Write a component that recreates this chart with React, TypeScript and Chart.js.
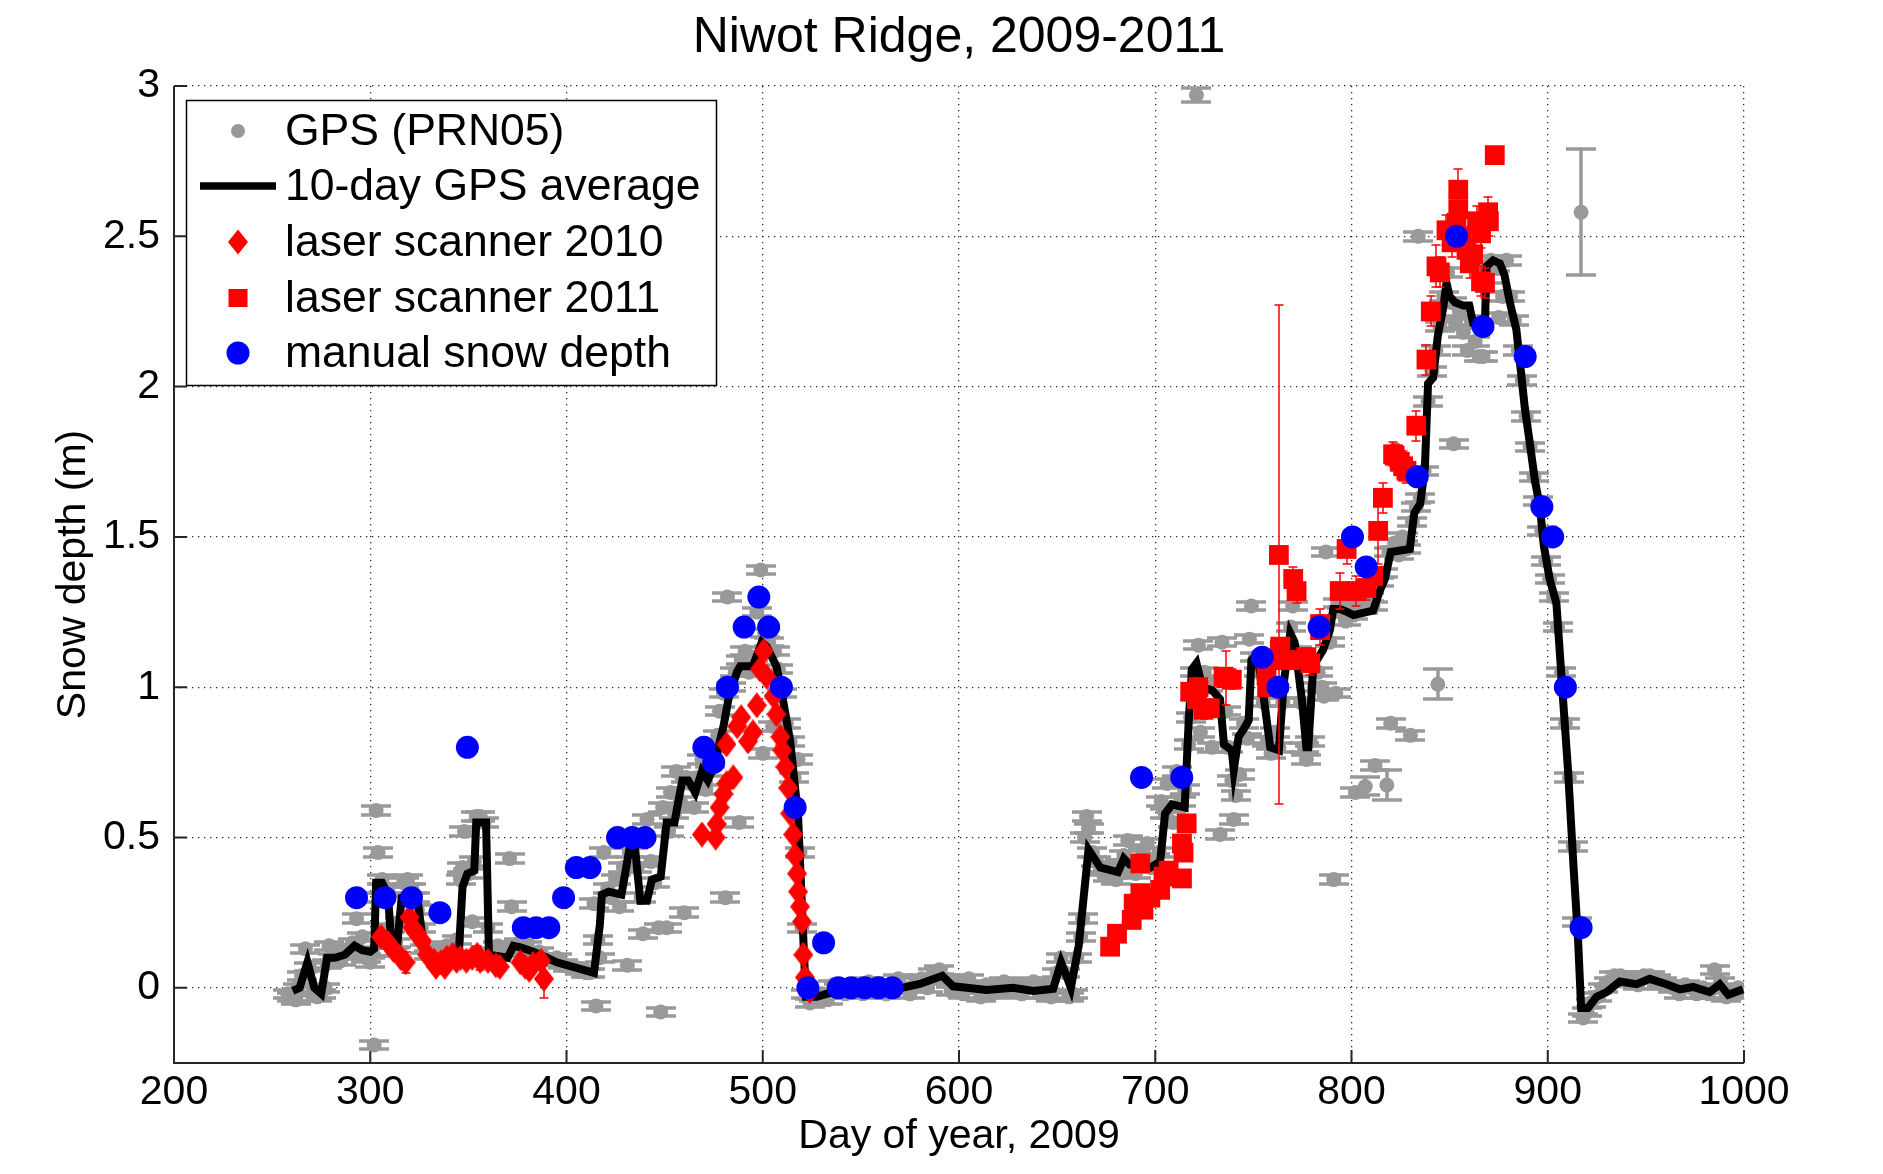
import React, { useEffect, useRef } from 'react';
import { Chart, registerables } from 'chart.js';

Chart.register(...registerables);

const FONT = "'Liberation Sans', Arial, Helvetica, sans-serif";

const chartTitle = 'Niwot Ridge, 2009-2011';
const xTickValues = [200, 300, 400, 500, 600, 700, 800, 900, 1000];
const yTickValues = [0, 0.5, 1, 1.5, 2, 2.5, 3];

// GPS (PRN05) daily estimates
const gpsDay = [
  258, 260, 262, 263, 265, 267, 269, 271, 273, 275, 277, 278, 279, 281, 283, 285, 287, 289, 291, 293,
  294, 296, 298, 300, 301, 302, 303, 304, 305, 306, 307, 309, 310, 312, 313, 315, 317, 319, 321, 323,
  324, 326, 328, 330, 333, 336, 339, 342, 344, 346, 347, 348, 350, 352, 353, 354, 356, 358, 360, 362,
  365, 368, 371, 372, 374, 376, 378, 380, 383, 386, 389, 392, 395, 398, 401, 404, 407, 410, 412, 414,
  415, 416, 417, 419, 421, 423, 425, 427, 429, 431, 432, 434, 436, 438, 439, 441, 443, 445, 447, 448,
  449, 451, 452, 453, 455, 456, 458, 460, 461, 463, 465, 467, 469, 471, 473, 475, 477, 478, 480, 481,
  482, 484, 486, 488, 489, 491, 493, 495, 497, 499, 500, 501, 503, 505, 506, 508, 510, 512, 514, 516,
  518, 519, 520, 522, 524, 526, 528, 530, 533, 536, 539, 542, 545, 548, 551, 554, 557, 560, 563, 566,
  569, 572, 575, 578, 581, 584, 587, 590, 593, 596, 599, 602, 605, 608, 611, 614, 617, 620, 623, 626,
  629, 632, 635, 638, 641, 644, 647, 650, 652, 654, 656, 658, 660, 662, 663, 664, 665, 666, 668, 670,
  672, 674, 676, 678, 680, 682, 684, 686, 688, 690, 692, 694, 696, 698, 700, 702, 703, 705, 706, 708,
  709, 711, 713, 715, 717, 718, 720, 721, 722, 723, 725, 727, 729, 731, 733, 734, 736, 737, 739, 740,
  741, 743, 745, 747, 748, 749, 751, 753, 755, 757, 759, 761, 763, 765, 767, 769, 770, 772, 774, 776,
  777, 779, 781, 783, 785, 786, 787, 789, 791, 792, 793, 795, 797, 799, 801, 802, 804, 806, 807, 809,
  811, 812, 814, 816, 818, 819, 820, 822, 824, 826, 828, 830, 831, 833, 834, 835, 837, 839, 841, 843,
  844, 845, 847, 849, 851, 852, 853, 855, 857, 859, 861, 863, 865, 867, 869, 871, 873, 875, 877, 879,
  881, 883, 885, 887, 889, 891, 893, 895, 897, 899, 901, 903, 905, 907, 909, 911, 913, 915, 917, 918,
  920, 922, 925, 928, 931, 934, 937, 940, 943, 946, 949, 952, 955, 958, 961, 964, 967, 970, 973, 976,
  979, 982, 985, 988, 991, 994, 997, 1000,
];
const gpsDepth = [
  -0.02, -0.03, -0.04, 0.0, 0.04, 0.13, 0.07, -0.01, -0.03, -0.02, 0.0, 0.08, 0.14, 0.1, 0.12, 0.09, 0.11, 0.13, 0.15, 0.23,
  0.12, 0.17, 0.1, 0.085, 0.12, -0.19, 0.59, 0.45, 0.3, 0.36, 0.33, 0.32, 0.2, 0.12, 0.15, 0.22, 0.35, 0.36, 0.33, 0.3,
  0.26, 0.2, 0.13, 0.11, 0.12, 0.1, 0.14, 0.1, 0.16, 0.36, 0.4, 0.52, 0.38, 0.22, 0.42, 0.57, 0.57, 0.55, 0.2, 0.12,
  0.14, 0.13, 0.43, 0.27, 0.14, 0.15, 0.12, 0.14, 0.11, 0.12, 0.1, 0.09, 0.1, 0.08, 0.07, 0.07, 0.06, 0.05, 0.05, 0.28,
  -0.06, 0.16, 0.1, 0.45, 0.33, 0.3, 0.36, 0.27, 0.4, 0.075, 0.45, 0.48, 0.4, 0.3, 0.18, 0.56, 0.42, 0.35, 0.2, -0.08,
  0.6, 0.2, 0.52, 0.65, 0.58, 0.72, 0.62, 0.25, 0.7, 0.68, 0.6, 0.7, 0.76, 0.66, 0.72, 0.8, 0.84, 0.92, 0.98, 0.3,
  1.3, 1.0, 1.05, 0.55, 1.09, 1.12, 1.05, 1.1, 1.25, 1.39, 0.78, 1.18, 1.15, 0.87, 1.12, 1.06, 0.98, 0.88, 0.82, 0.7,
  0.76, 0.45, 0.2, -0.02, -0.05, -0.03, -0.04, -0.02, -0.04, 0.01, 0.0, -0.02, 0.01, 0.0, -0.02, 0.02, 0.0, 0.01, -0.02, 0.0,
  0.03, 0.0, -0.02, 0.02, 0.03, 0.0, 0.05, 0.06, 0.03, -0.01, 0.02, -0.02, 0.03, 0.0, -0.03, 0.01, -0.02, 0.0, 0.02, -0.01,
  0.01, -0.02, 0.0, 0.02, -0.02, 0.01, -0.03, 0.05, 0.1, 0.05, -0.03, -0.02, 0.1, 0.17, 0.23, 0.5, 0.57, 0.53, 0.45, 0.42,
  0.39, 0.4, 0.37, 0.38, 0.36, 0.41, 0.44, 0.49, 0.4, 0.38, 0.42, 0.45, 0.48, 0.4, 0.43, 0.45, 0.62, 0.58, 0.68, 0.6,
  0.55, 0.72, 0.62, 0.66, 0.81, 0.9, 1.05, 2.97, 1.14, 0.85, 1.05, 1.0, 0.8, 1.02, 0.51, 1.15, 0.92, 0.8, 0.69, 0.56,
  0.64, 0.71, 0.88, 0.83, 1.16, 1.27, 1.1, 1.05, 0.95, 0.82, 0.78, 0.85, 0.8, 0.95, 1.1, 1.2, 1.27, 1.12, 0.95, 0.8,
  0.76, 0.82, 1.0, 1.05, 1.0, 0.97, 1.45, 1.15, 0.36, 0.98, 1.28, 1.25, 1.22, 1.28, 1.24, 0.65, 1.3, 1.26, 0.67, 1.3,
  1.27, 0.74, 1.35, 1.38, 0.675, 1.45, 0.88, 1.48, 1.44, 1.5, 1.46, 0.84, 1.55, 1.6, 2.5, 1.63, 1.72, 1.95, 2.05, 2.12,
  1.01, 2.2, 2.3, 2.38, 2.28, 1.81, 2.21, 2.25, 2.18, 2.12, 2.22, 2.15, 2.1, 2.1, 2.36, 2.42, 2.4, 2.23, 2.3, 2.42,
  2.3, 2.22, 2.12, 2.02, 1.9, 1.8, 1.7, 1.62, 1.52, 1.42, 1.36, 1.3, 1.2, 1.05, 0.88, 0.7, 0.47, 0.22, 2.58, -0.1,
  -0.08, -0.05, -0.03, 0.0, 0.02, 0.04, 0.04, 0.02, 0.03, 0.01, 0.04, 0.04, 0.03, 0.02, 0.01, 0.0, -0.02, 0.01, 0.0, -0.02,
  0.0, -0.02, 0.06, 0.02, -0.03, -0.02, 0.0, -0.01,
];
const gpsErrDefault = 0.014;
const gpsErrDay = [721, 807, 818, 844, 917];
const gpsErrValue = [0.022, 0.03, 0.05, 0.05, 0.21];

// 10-day GPS average
const avgDay = [
  260.5, 264, 268, 271.5, 275, 278, 282, 287, 292, 296, 300, 302, 303, 306, 309, 310.5, 314, 316, 320, 324,
  327.5, 335, 345, 347, 349.5, 353, 354, 359, 360.5, 370, 373, 376.5, 383, 390, 395, 414, 417, 418, 421.5, 428,
  432, 435, 437.6, 441, 443.5, 448, 451, 455, 459, 462, 465.6, 469, 472, 475, 480, 482.5, 486.8, 488.5, 495, 499.5,
  502, 507, 510.5, 514, 518, 520.7, 522, 527.5, 532.5, 544, 571, 580, 591.5, 597, 604, 614, 627.5, 638, 648, 652,
  655, 657, 661, 666, 672, 681, 684, 687, 697.5, 702.5, 705, 708.5, 715, 717, 718.7, 721, 724, 729, 733, 735,
  739, 740, 742.5, 745, 747.6, 749, 752, 755, 758.6, 763, 765.4, 768.8, 771, 774.7, 777, 778, 780.5, 785.6, 789, 790.7,
  794, 798, 801, 811, 814.4, 817, 820, 829.7, 832, 835, 837.4, 839, 841.6, 844, 846.7, 848.4, 850, 852.7, 857, 860,
  862, 865.4, 868, 868.8, 872.2, 875.6, 878, 880.7, 884, 886, 888.3, 890.9, 893.4, 896, 898, 901, 904.4, 907, 910.4, 913,
  915.5, 917, 920.5, 924.8, 930, 936.7, 945.2, 952, 960.5, 967.3, 974, 982.5, 987.6, 992, 999.5,
];
const avgDepth = [
  -0.01, 0.0, 0.085, 0.0, -0.02, 0.1, 0.1, 0.11, 0.14, 0.125, 0.12, 0.13, 0.35, 0.35, 0.31, 0.17, 0.16, 0.3, 0.31, 0.3,
  0.12, 0.1, 0.1, 0.335, 0.38, 0.39, 0.55, 0.55, 0.11, 0.1, 0.14, 0.135, 0.12, 0.1, 0.085, 0.05, 0.21, 0.31, 0.32, 0.31,
  0.46, 0.46, 0.29, 0.29, 0.36, 0.37, 0.55, 0.55, 0.69, 0.69, 0.65, 0.72, 0.69, 0.735, 0.87, 0.96, 1.05, 1.07, 1.07, 1.15,
  1.135, 1.07, 0.95, 0.82, 0.57, 0.16, -0.03, -0.03, -0.02, 0.0, 0.0, 0.013, 0.04, 0.005, 0.0, -0.007, 0.0, -0.01, -0.003, 0.085,
  0.035, 0.0, 0.14, 0.46, 0.4, 0.385, 0.43, 0.41, 0.4, 0.42, 0.58, 0.61, 0.6, 0.88, 1.06, 1.08, 1.0, 0.99, 0.96, 0.81,
  0.79, 0.725, 0.836, 0.86, 0.89, 1.09, 1.11, 0.98, 0.8, 0.79, 1.01, 1.18, 1.15, 0.96, 0.8, 0.8, 1.07, 1.125, 1.19, 1.26,
  1.26, 1.25, 1.24, 1.255, 1.32, 1.36, 1.45, 1.46, 1.58, 1.61, 1.73, 2.01, 2.03, 2.17, 2.26, 2.345, 2.3, 2.28, 2.27, 2.27,
  2.21, 2.2, 2.21, 2.4, 2.42, 2.41, 2.37, 2.28, 2.19, 2.07, 1.93, 1.81, 1.69, 1.6, 1.47, 1.36, 1.28, 1.034, 0.717, 0.418,
  0.153, -0.067, -0.067, -0.03, -0.014, 0.021, 0.012, 0.03, 0.012, -0.005, 0.003, -0.014, 0.012, -0.023, -0.005,
];

// laser scanner 2010
const laser2010Day = [
  305.5, 309, 312, 315.5, 318, 320, 321.5, 324, 326.5, 329, 332.5, 333.5, 336, 338, 339, 342, 344, 346, 349, 352,
  354.5, 356, 360, 364, 366, 376.5, 379, 381, 383, 387, 388.5,
  469, 476, 476.5, 478, 480, 481.5, 485, 481.5, 487, 489, 492.5, 495, 497, 498.5, 500.5, 502, 505.5, 507, 509,
  510, 511.5, 513, 514, 515.5, 516.5, 517.5, 518, 519, 520, 520.7, 521.5, 524,
];
const laser2010Depth = [
  0.17, 0.15, 0.125, 0.1, 0.085, 0.235, 0.2, 0.18, 0.155, 0.11, 0.09, 0.07, 0.085, 0.07, 0.1, 0.11, 0.09, 0.1, 0.09, 0.1,
  0.11, 0.09, 0.09, 0.075, 0.07, 0.085, 0.07, 0.06, 0.08, 0.09, 0.03,
  0.51, 0.5, 0.545, 0.6, 0.645, 0.68, 0.7, 0.81, 0.87, 0.9, 0.82, 0.85, 0.94, 1.06, 1.12, 1.035, 0.97, 0.91, 0.835,
  0.79, 0.735, 0.665, 0.58, 0.51, 0.44, 0.38, 0.32, 0.27, 0.22, 0.11, 0.035, -0.01,
];
const laser2010Err = [
  0.01, 0.01, 0.01, 0.01, 0.035, 0.01, 0.01, 0.01, 0.01, 0.01, 0.01, 0.01, 0.01, 0.01, 0.01, 0.01, 0.01, 0.01, 0.01, 0.01,
  0.03, 0.03, 0.01, 0.01, 0.01, 0.01, 0.01, 0.01, 0.01, 0.025, 0.065,
  0.012, 0.01, 0.01, 0.01, 0.01, 0.01, 0.01, 0.01, 0.01, 0.01, 0.01, 0.01, 0.01, 0.01, 0.01, 0.01, 0.01, 0.01, 0.01,
  0.01, 0.01, 0.01, 0.01, 0.01, 0.01, 0.01, 0.01, 0.01, 0.01, 0.01, 0.01, 0.01,
];

// laser scanner 2011
const laser2011Day = [
  677, 680.5, 688, 689, 692.4, 692.4, 694, 697.5, 702.5, 704.2, 706.8, 713.6, 714.4, 713.6, 716, 717.8, 721.2, 722, 724.6, 727.8,
  734.8, 736.3, 739, 756.7, 757, 762, 763.5, 763, 763.7, 768.8, 770.3, 772, 777, 779, 784, 784, 794, 797.5, 802.5, 807.6,
  811, 813.6, 816, 821.2, 822, 824.6, 826.3, 828, 833, 838.2, 840.4, 843.3, 845, 848.4, 851, 853.5, 854.4, 854.4, 856, 858.6,
  860.3, 862, 864, 866, 866, 868, 869.6, 870, 873,
];
const laser2011Depth = [
  0.137, 0.18, 0.226, 0.28, 0.315, 0.414, 0.26, 0.3, 0.326, 0.37, 0.39, 0.364, 0.45, 0.48, 0.547, 0.985, 0.96, 1.0, 0.925, 0.93,
  1.035, 1.03, 1.025, 1.04, 1.0, 1.09, 1.125, 1.44, 1.135, 1.09, 1.36, 1.32, 1.1, 1.08, 1.19, 1.21, 1.32, 1.46, 1.32, 1.33,
  1.37, 1.52, 1.63, 1.775, 1.77, 1.75, 1.735, 1.72, 1.87, 2.09, 2.25, 2.4, 2.38, 2.52, 2.48, 2.545, 2.59, 2.655, 2.5, 2.455,
  2.41, 2.44, 2.55, 2.51, 2.35, 2.345, 2.58, 2.55, 2.77,
];
const laser2011Err = [
  0.02, 0.02, 0.02, 0.02, 0.02, 0.02, 0.02, 0.02, 0.02, 0.02, 0.02, 0.02, 0.02, 0.02, 0.02, 0.03, 0.03, 0.03, 0.03, 0.03,
  0.03, 0.09, 0.03, 0.03, 0.03, 0.03, 0.04, 0.83, 0.03, 0.03, 0.04, 0.04, 0.03, 0.04, 0.05, 0.05, 0.06, 0.05, 0.05, 0.04,
  0.04, 0.11, 0.05, 0.04, 0.04, 0.04, 0.05, 0.04, 0.05, 0.05, 0.05, 0.07, 0.05, 0.05, 0.05, 0.06, 0.06, 0.07, 0.05, 0.05,
  0.05, 0.05, 0.05, 0.05, 0.05, 0.05, 0.05, 0.05, 0.02,
];

// manual snow depth
const manualDay = [
  293, 307.5, 321, 335.5, 349.5, 378, 384.5, 391, 398.5, 405, 412, 426, 433.5, 440, 470, 475, 482, 490.5, 498, 503,
  509.5, 516.5, 523, 531, 538.5, 545, 552, 559, 566, 693, 713.5, 754.5, 762.5, 783.5, 800.5, 807.5, 833.5, 853.5, 867, 888.5,
  897, 902.5, 909, 917,
];
const manualDepth = [
  0.3, 0.3, 0.3, 0.25, 0.8, 0.2, 0.2, 0.2, 0.3, 0.4, 0.4, 0.5, 0.5, 0.5, 0.8, 0.75, 1.0, 1.2, 1.3, 1.2,
  1.0, 0.6, 0.0, 0.15, 0.0, 0.0, 0.0, 0.0, 0.0, 0.7, 0.7, 1.1, 1.0, 1.2, 1.5, 1.4, 1.7, 2.5, 2.2, 2.1,
  1.6, 1.5, 1.0, 0.2,
];

const legendEntries = [
  'GPS (PRN05)',
  '10-day GPS average',
  'laser scanner 2010',
  'laser scanner 2011',
  'manual snow depth',
];

const GRAY = '#999999';
const RED = '#ff0000';
const BLUE = '#0000ff';

function makeDiamond(w: number, h: number, color: string) {
  const c = document.createElement('canvas');
  c.width = w;
  c.height = h;
  const g = c.getContext('2d')!;
  g.fillStyle = color;
  g.beginPath();
  g.moveTo(w / 2, 0);
  g.lineTo(w, h / 2);
  g.lineTo(w / 2, h);
  g.lineTo(0, h / 2);
  g.closePath();
  g.fill();
  return c;
}

const errorBarPlugin = {
  id: 'errorBars',
  beforeDatasetDraw(chart: any, args: any) {
    const ds = chart.data.datasets[args.index];
    if (!ds.errors) return;
    const ys = chart.scales.y;
    const area = chart.chartArea;
    const ctx = chart.ctx;
    ctx.save();
    ctx.beginPath();
    ctx.rect(area.left, area.top, area.right - area.left, area.bottom - area.top);
    ctx.clip();
    ctx.strokeStyle = ds.errColor;
    ctx.lineWidth = ds.errWidth;
    const hw = ds.errCap / 2;
    args.meta.data.forEach((pt: any, i: number) => {
      const e = ds.errors[i];
      if (!e) return;
      const v = ds.data[i].y;
      const yt = Math.round(ys.getPixelForValue(v + e));
      const yb = Math.round(ys.getPixelForValue(v - e));
      const x = Math.round(pt.x);
      ctx.beginPath();
      ctx.moveTo(x, yt);
      ctx.lineTo(x, yb);
      ctx.moveTo(x - hw, yt);
      ctx.lineTo(x + hw, yt);
      ctx.moveTo(x - hw, yb);
      ctx.lineTo(x + hw, yb);
      ctx.stroke();
    });
    ctx.restore();
  },
};

const axesPlugin = {
  id: 'matlabAxes',
  beforeDatasetsDraw(chart: any) {
    const { ctx, chartArea: a, scales } = chart;
    ctx.save();
    ctx.strokeStyle = '#262626';
    ctx.lineWidth = 2;
    ctx.beginPath();
    ctx.moveTo(a.left, a.top);
    ctx.lineTo(a.left, a.bottom);
    ctx.lineTo(a.right, a.bottom);
    ctx.stroke();
    ctx.beginPath();
    xTickValues.forEach((v) => {
      const x = scales.x.getPixelForValue(v);
      ctx.moveTo(x, a.bottom);
      ctx.lineTo(x, a.bottom - 13);
    });
    yTickValues.forEach((v) => {
      const y = scales.y.getPixelForValue(v);
      ctx.moveTo(a.left, y);
      ctx.lineTo(a.left + 13, y);
    });
    ctx.stroke();
    ctx.fillStyle = '#000';
    ctx.font = `50px ${FONT}`;
    ctx.textAlign = 'center';
    ctx.textBaseline = 'middle';
    ctx.fillText(chartTitle, (a.left + a.right) / 2, 38);
    ctx.restore();
  },
};

const legendPlugin = {
  id: 'matlabLegend',
  afterDraw(chart: any) {
    const ctx = chart.ctx;
    const bx = 186, by = 100, bw = 530, bh = 285;
    ctx.save();
    ctx.fillStyle = '#ffffff';
    ctx.fillRect(bx, by, bw, bh);
    ctx.strokeStyle = '#000000';
    ctx.lineWidth = 1.5;
    ctx.strokeRect(bx + 0.5, by + 0.5, bw, bh);
    const sx = 238;
    const rows = [131, 186, 242, 298, 353];
    ctx.fillStyle = GRAY;
    ctx.beginPath();
    ctx.arc(sx, rows[0], 7, 0, Math.PI * 2);
    ctx.fill();
    ctx.strokeStyle = '#000';
    ctx.lineWidth = 7.5;
    ctx.beginPath();
    ctx.moveTo(200, rows[1]);
    ctx.lineTo(276, rows[1]);
    ctx.stroke();
    ctx.fillStyle = RED;
    ctx.beginPath();
    ctx.moveTo(sx, rows[2] - 12.5);
    ctx.lineTo(sx + 10, rows[2]);
    ctx.lineTo(sx, rows[2] + 12.5);
    ctx.lineTo(sx - 10, rows[2]);
    ctx.closePath();
    ctx.fill();
    ctx.fillRect(sx - 9.5, rows[3] - 9, 19, 18);
    ctx.fillStyle = BLUE;
    ctx.beginPath();
    ctx.arc(sx, rows[4], 11.5, 0, Math.PI * 2);
    ctx.fill();
    ctx.fillStyle = '#000';
    ctx.font = `44.5px ${FONT}`;
    ctx.textBaseline = 'middle';
    ctx.textAlign = 'left';
    legendEntries.forEach((t, i) => ctx.fillText(t, 285, rows[i] + 2));
    ctx.restore();
  },
};

export default function App() {
  const ref = useRef<HTMLCanvasElement | null>(null);

  useEffect(() => {
    if (!ref.current) return;
    const diamond = makeDiamond(20, 26, RED);
    const gpsErr = gpsDay.map((d) => {
      const k = gpsErrDay.indexOf(d);
      return k >= 0 ? gpsErrValue[k] : gpsErrDefault;
    });
    const toXY = (xs: number[], ys: number[]) => xs.map((x, i) => ({ x, y: ys[i] }));

    const chart = new Chart(ref.current, {
      type: 'scatter',
      data: {
        datasets: [
          {
            label: 'GPS (PRN05)',
            data: toXY(gpsDay, gpsDepth),
            pointStyle: 'circle',
            pointRadius: 7.5,
            pointBackgroundColor: GRAY,
            pointBorderWidth: 0,
            order: 5,
            errors: gpsErr,
            errColor: GRAY,
            errWidth: 3.5,
            errCap: 30,
          } as any,
          {
            label: '10-day GPS average',
            data: toXY(avgDay, avgDepth),
            showLine: true,
            borderColor: '#000000',
            borderWidth: 8,
            pointRadius: 0,
            order: 4,
          },
          {
            label: 'laser scanner 2010',
            data: toXY(laser2010Day, laser2010Depth),
            pointStyle: diamond,
            pointRadius: 10,
            order: 3,
            errors: laser2010Err,
            errColor: RED,
            errWidth: 1.5,
            errCap: 9,
          } as any,
          {
            label: 'laser scanner 2011',
            data: toXY(laser2011Day, laser2011Depth),
            pointStyle: 'rect',
            pointRadius: 14,
            pointBackgroundColor: RED,
            pointBorderWidth: 0,
            order: 2,
            errors: laser2011Err,
            errColor: RED,
            errWidth: 1.5,
            errCap: 9,
          } as any,
          {
            label: 'manual snow depth',
            data: toXY(manualDay, manualDepth),
            pointStyle: 'circle',
            pointRadius: 11.5,
            pointBackgroundColor: BLUE,
            pointBorderWidth: 0,
            order: 1,
          },
        ],
      },
      options: {
        responsive: false,
        devicePixelRatio: 1,
        animation: false,
        layout: { padding: { left: 0, right: 139, top: 86, bottom: 0 } },
        plugins: {
          legend: { display: false },
          tooltip: { enabled: false },
          title: { display: false },
        },
        scales: {
          x: {
            type: 'linear',
            min: 200,
            max: 1000,
            afterBuildTicks: (s: any) => {
              s.ticks = xTickValues.map((v) => ({ value: v }));
            },
            afterFit: (s: any) => {
              s.height = 111;
            },
            ticks: {
              callback: (v: any) => String(v),
              color: '#000',
              font: { family: FONT, size: 41 },
              padding: 5,
              maxRotation: 0,
              autoSkip: false,
            },
            grid: { color: 'rgba(0,0,0,0.85)', lineWidth: 1.3, drawTicks: false },
            border: { display: false, dash: [1.3, 4.7] },
            title: {
              display: true,
              text: 'Day of year, 2009',
              color: '#000',
              font: { family: FONT, size: 41 },
              padding: { top: 0, bottom: 13 },
            },
          },
          y: {
            type: 'linear',
            min: -0.25,
            max: 3,
            afterBuildTicks: (s: any) => {
              s.ticks = yTickValues.map((v) => ({ value: v }));
            },
            afterFit: (s: any) => {
              s.width = 174;
            },
            ticks: {
              callback: (v: any) => String(v),
              color: '#000',
              font: { family: FONT, size: 41 },
              padding: 14,
              autoSkip: false,
            },
            grid: { color: 'rgba(0,0,0,0.85)', lineWidth: 1.3, drawTicks: false },
            border: { display: false, dash: [1.3, 4.7] },
            title: {
              display: true,
              text: 'Snow depth (m)',
              color: '#000',
              font: { family: FONT, size: 41 },
              padding: { top: 49, bottom: 0 },
            },
          },
        },
      } as any,
      plugins: [errorBarPlugin, axesPlugin, legendPlugin],
    });
    return () => chart.destroy();
  }, []);

  return (
    <div style={{ position: 'fixed', left: 0, top: 0, width: 1883, height: 1174, background: '#fff' }}>
      <canvas ref={ref} width={1883} height={1174} style={{ width: 1883, height: 1174, display: 'block' }} />
    </div>
  );
}
